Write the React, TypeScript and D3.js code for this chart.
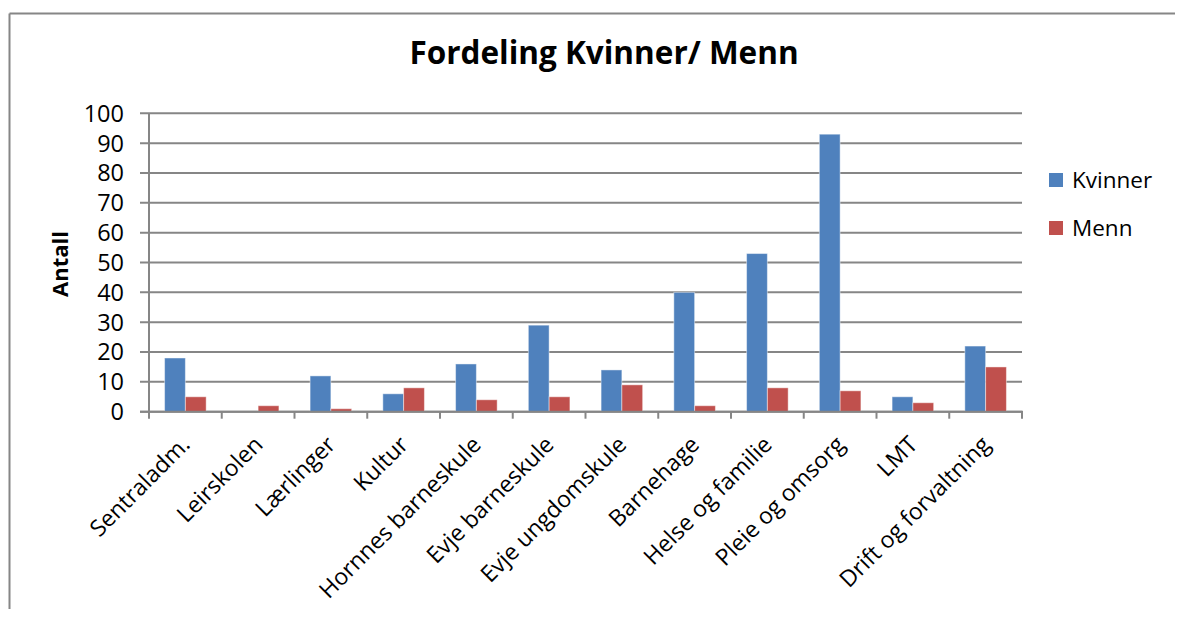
import React from "react";
import * as d3 from "d3";

const categories = [
  "Sentraladm.",
  "Leirskolen",
  "Lærlinger",
  "Kultur",
  "Hornnes barneskule",
  "Evje barneskule",
  "Evje ungdomskule",
  "Barnehage",
  "Helse og familie",
  "Pleie og omsorg",
  "LMT",
  "Drift og forvaltning",
];
const kvinner = [18, 0, 12, 6, 16, 29, 14, 40, 53, 93, 5, 22];
const menn = [5, 2, 1, 8, 4, 5, 9, 2, 8, 7, 3, 15];
const seriesNames = ["Kvinner", "Menn"];
const seriesColors = ["#4F81BD", "#C0504D"];
const yTicks = [0, 10, 20, 30, 40, 50, 60, 70, 80, 90, 100];

const FONT = "'Open Sans', sans-serif";

export default function App() {
  const W = 1183;
  const H = 617;
  const left = 149;
  const right = 1022;
  const top = 113.3;
  const bottom = 411.7;

  const x = d3.scaleBand<string>().domain(categories).range([left, right]).paddingInner(0).paddingOuter(0);
  const bw = x.bandwidth();
  const barW = bw / 3.5;
  const y = d3.scaleLinear().domain([0, 100]).range([bottom, top]);
  const series = [kvinner, menn];

  return (
    <div style={{ margin: -8 }}>
      <svg width={W} height={H} style={{ display: "block", fontFamily: FONT }}>
        <rect x={0} y={0} width={W} height={H} fill="#fff" />
        {/* outer border */}
        <line x1={9.5} y1={13.5} x2={W} y2={13.5} stroke="#868686" strokeWidth={2} />
        <line x1={9.5} y1={13.5} x2={9.5} y2={H} stroke="#868686" strokeWidth={2} />

        <text x={604} y={64} textAnchor="middle" fontSize={31.5} fontWeight="bold" fill="#000">
          Fordeling Kvinner/ Menn
        </text>

        {/* gridlines and y ticks */}
        {yTicks.map((t) => (
          <g key={t}>
            <line x1={140} x2={right} y1={y(t)} y2={y(t)} stroke="#868686" strokeWidth={2} />
            <text x={124} y={y(t)} dy="0.36em" textAnchor="end" fontSize={23.5} fill="#000">
              {t}
            </text>
          </g>
        ))}

        {/* bars */}
        {categories.map((c, i) => (
          <g key={c}>
            {series.map((s, j) => (
              <rect
                key={j}
                x={(x(c) as number) + bw * 0.75 / 3.5 + j * barW}
                y={y(s[i])}
                width={barW}
                height={bottom - y(s[i])}
                fill={seriesColors[j]}
                stroke={s[i] > 0 ? "rgba(255,255,255,0.45)" : "none"}
                strokeWidth={1}
              />
            ))}
          </g>
        ))}

        {/* axes */}
        <line x1={left} x2={left} y1={top} y2={bottom + 7} stroke="#868686" strokeWidth={2} />
        <line x1={140} x2={right + 1} y1={bottom} y2={bottom} stroke="#868686" strokeWidth={2} />
        {categories.map((c, i) => (
          <line key={c} x1={(x(c) as number) + bw} x2={(x(c) as number) + bw} y1={bottom} y2={bottom + 7} stroke="#868686" strokeWidth={2} />
        ))}

        {/* category labels */}
        {categories.map((c) => {
          const cx = (x(c) as number) + bw / 2;
          return (
            <text
              key={c}
              transform={`translate(${cx + 6},${446}) rotate(-45)`}
              textAnchor="end"
              fontSize={23}
              fill="#000"
            >
              {c}
            </text>
          );
        })}

        {/* y axis title */}
        <text transform={`translate(68,${264}) rotate(-90)`} textAnchor="middle" fontSize={22} fontWeight="bold" fill="#000">
          Antall
        </text>

        {/* legend */}
        {seriesNames.map((n, i) => (
          <g key={n} transform={`translate(1049,${173 + i * 48})`}>
            <rect x={0} y={0} width={14} height={14} fill={seriesColors[i]} />
            <text x={23} y={7} dy="0.36em" fontSize={22.5} fill="#000">
              {n}
            </text>
          </g>
        ))}
      </svg>
    </div>
  );
}
